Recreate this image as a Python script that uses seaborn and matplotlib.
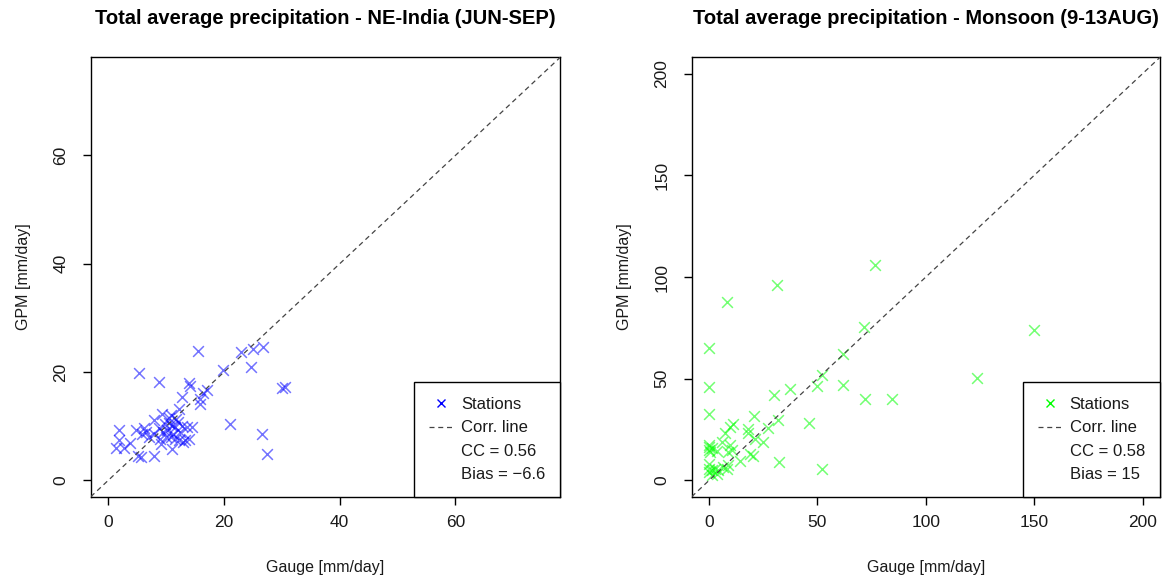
import matplotlib
matplotlib.use("Agg")
import matplotlib.pyplot as plt
from matplotlib.lines import Line2D
import seaborn as sns
import pandas as pd

# ---------------- data ----------------
ne_gauge = [15.6, 5.4, 8.8, 23.0, 25.0, 26.8, 19.9, 24.6, 30.1, 30.5, 21.0, 26.5, 27.5,
            13.9, 14.2, 17.0, 16.4, 12.8, 15.9, 15.8, 12.2, 9.3, 7.9,
            1.8, 1.9, 1.4, 2.8, 3.8, 4.8, 5.1, 5.6, 7.9, 6.2, 6.5, 5.9, 7.1, 9.1, 11.1,
            10.8, 11.6, 13.0, 13.9, 13.6, 14.5,
            9.8, 10.5, 11.0, 10.2, 11.5, 12.0, 10.8, 9.5, 12.5, 11.2, 10.0, 12.2, 8.8,
            10.6, 11.8, 9.0, 8.0, 12.8, 13.3]
ne_gpm = [23.9, 19.9, 18.2, 23.8, 24.3, 24.7, 20.4, 21.0, 17.0, 17.3, 10.4, 8.6, 4.9,
          18.0, 17.4, 16.7, 16.2, 15.4, 15.1, 14.1, 13.1, 12.3, 11.1,
          9.3, 7.5, 6.0, 6.0, 6.9, 9.3, 4.6, 4.4, 4.5, 9.6, 8.9, 8.6, 8.0, 6.8, 5.9,
          8.0, 7.7, 7.1, 7.7, 9.9, 9.9,
          10.5, 11.5, 10.0, 9.3, 9.8, 10.8, 12.0, 9.0, 9.0, 8.6, 8.0, 7.5, 9.7,
          10.6, 11.4, 7.7, 8.5, 10.0, 7.4]

mon_gauge = [76.4, 31.3, 8.2, 0.0, 71.3, 61.7, 52.0, 49.7, 62.0, 72.1, 84.4, 123.6, 150.1,
             0.0, 30.2, 37.4, 0.0, 20.8, 32.0, 27.4, 45.9, 11.2, 9.7, 18.2, 18.2, 7.4,
             21.2, 25.1, 5.9, 0.0, 0.0, 1.2, 3.5, 9.7, 10.5, 8.9, 18.9, 20.2, 14.3, 32.3,
             52.0, 0.0, 0.0, 0.0, 1.2, 2.8, 4.3, 6.6, 8.2, 8.9, 3.5, 1.2, 0.0, 0.5]
mon_gpm = [105.9, 96.0, 87.8, 65.2, 75.6, 62.2, 52.0, 46.5, 47.0, 40.1, 40.1, 50.3, 73.8,
           45.9, 42.1, 44.9, 32.7, 31.8, 29.7, 25.9, 28.4, 27.7, 26.4, 25.2, 23.1, 23.1,
           20.6, 18.7, 19.0, 16.5, 15.2, 16.0, 14.4, 17.3, 14.9, 14.0, 12.9, 11.9, 9.4, 9.1,
           5.8, 8.2, 5.8, 4.1, 5.0, 5.8, 5.0, 6.6, 5.8, 7.4, 3.3, 2.5, 17.5, 14.0]

titles = ["Total average precipitation - NE-India (JUN-SEP)",
          "Total average precipitation - Monsoon (9-13AUG)"]
cc_values = ["0.56", "0.58"]
bias_values = ["\u22126.6", "15"]
ticks_left = [0, 20, 40, 60]
ticks_right = [0, 50, 100, 150, 200]

# ---------------- style ----------------
sns.set_theme(style="ticks")
plt.rcParams['font.family'] = ['Liberation Sans', 'DejaVu Sans']
plt.rcParams['axes.linewidth'] = 1.0

fig = plt.figure(figsize=(11.65, 5.79), dpi=100)
ax1 = fig.add_axes([0.0779, 0.1421, 0.4030, 0.7589])
ax2 = fig.add_axes([0.5937, 0.1421, 0.4020, 0.7589])

panels = [
    (ax1, ne_gauge, ne_gpm, (0, 0, 1), (-3.0, 78.1), ticks_left, titles[0], cc_values[0], bias_values[0]),
    (ax2, mon_gauge, mon_gpm, (0, 1, 0), (-8.0, 208.0), ticks_right, titles[1], cc_values[1], bias_values[1]),
]

txt = "#1a1a1a"
for ax, gx, gy, col, lim, ticks, title, cc, bias in panels:
    df = pd.DataFrame({"Gauge": gx, "GPM": gy})
    sns.scatterplot(data=df, x="Gauge", y="GPM", ax=ax, marker="x", s=60,
                    color=col, alpha=0.55, linewidth=1.1, legend=False, zorder=2)
    ax.plot([lim[0], lim[1]], [lim[0], lim[1]], color="#444444", lw=0.9,
            dashes=(4, 3), zorder=3)
    ax.set_xlim(lim)
    ax.set_ylim(lim)
    ax.set_xticks(ticks)
    ax.set_yticks(ticks)
    for sp in ax.spines.values():
        sp.set_visible(True)
        sp.set_color("black")
        sp.set_linewidth(1.0)
    ax.tick_params(axis="both", direction="out", length=6, width=1.0,
                   labelsize=12.5, colors="black", labelcolor=txt)
    ax.tick_params(axis="x", pad=7)
    ax.tick_params(axis="y", pad=10)
    for lab in ax.get_yticklabels():
        lab.set_rotation(90)
        lab.set_va("center")
    ax.set_xlabel("Gauge [mm/day]", fontsize=11.5, color=txt, labelpad=22)
    ax.set_ylabel("GPM [mm/day]", fontsize=11.5, color=txt, labelpad=16)
    ax.set_title(title, fontsize=14.5, fontweight="bold", color="black", pad=24)

    handles = [
        Line2D([], [], marker="x", linestyle="None", color=col, markersize=6, mew=1.0),
        Line2D([], [], color="#444444", lw=0.9, dashes=(4, 3)),
        Line2D([], [], linestyle="None"),
        Line2D([], [], linestyle="None"),
    ]
    labels = ["Stations", "Corr. line", f"CC = {cc}", f"Bias = {bias}"]
    leg = ax.legend(handles, labels, loc="lower right", frameon=True, fancybox=False,
                    borderaxespad=0, fontsize=12, handlelength=1.4, handletextpad=0.5,
                    labelspacing=0.49, borderpad=0.9)
    leg.get_frame().set_edgecolor("black")
    leg.get_frame().set_linewidth(1.0)
    leg.get_frame().set_alpha(1.0)
    for t in leg.get_texts():
        t.set_color(txt)

fig.savefig("out.png", dpi=100, facecolor="white")
